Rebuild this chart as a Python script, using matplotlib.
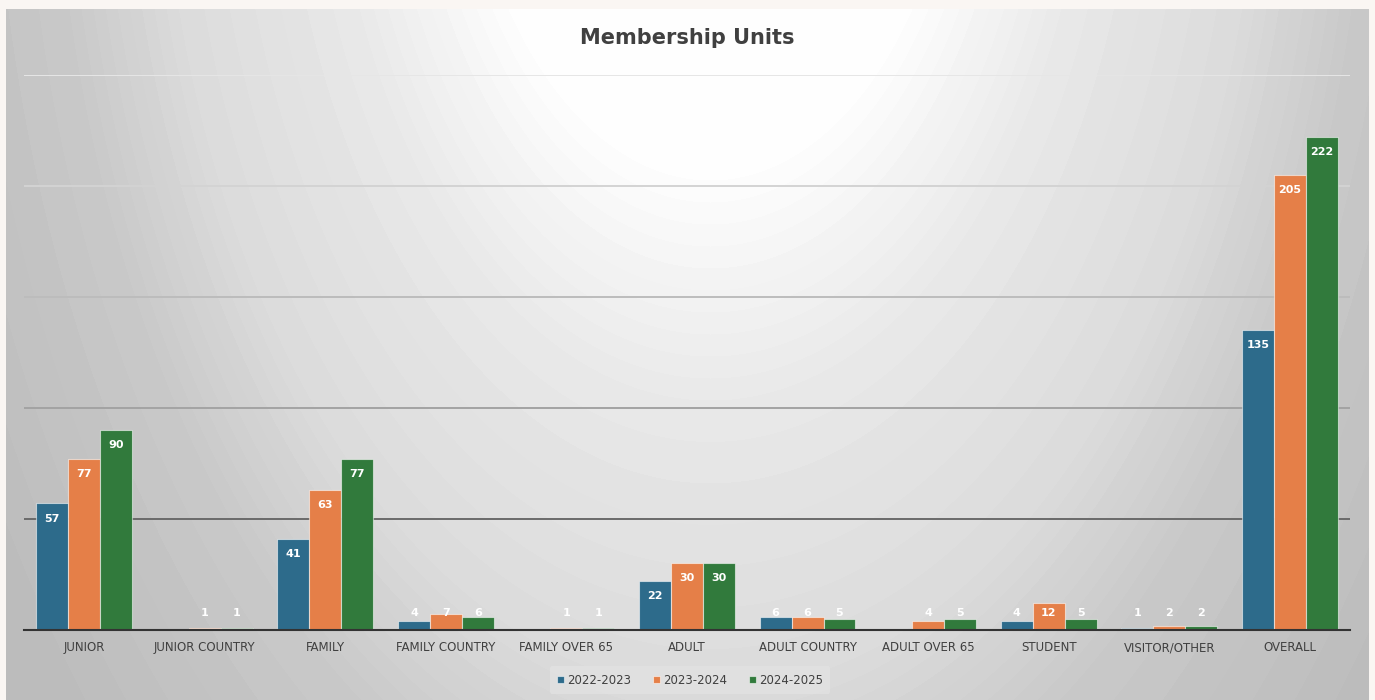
import numpy as np
import matplotlib
matplotlib.use('Agg')
import matplotlib.pyplot as plt

categories = ['JUNIOR', 'JUNIOR COUNTRY', 'FAMILY', 'FAMILY COUNTRY', 'FAMILY OVER 65',
              'ADULT', 'ADULT COUNTRY', 'ADULT OVER 65', 'STUDENT', 'VISITOR/OTHER', 'OVERALL']
seasons = ['2022-2023', '2023-2024', '2024-2025']
units_2022 = [57, 0, 41, 4, 0, 22, 6, 0, 4, 1, 135]
units_2023 = [77, 1, 63, 7, 1, 30, 6, 4, 12, 2, 205]
units_2024 = [90, 1, 77, 6, 1, 30, 5, 5, 5, 2, 222]
colors = ['#2d6b8b', '#e57f48', '#317a3c']
grid_levels = [50, 100, 150, 200, 250]
grid_colors = ['#6a6a6a', '#a3a3a3', '#bcbcbc', '#d3d3d3', '#e6e6e6']

W, H = 1375, 700
fig = plt.figure(figsize=(W / 100, H / 100), dpi=100, facecolor='#faf6f3')

# radial grey background of the chart area (white at top centre)
bx0, bx1, by0, by1 = 6, 1369, 9, 700
bg = fig.add_axes([bx0 / W, 0, (bx1 - bx0) / W, (by1 - by0) / H], zorder=0)
yy, xx = np.mgrid[by0:by1, bx0:bx1]
d = np.sqrt(((xx - 710) * 1.7) ** 2 + (yy + 250) ** 2)
g = np.interp(d, [0, 430, 650, 940, 1120, 1450], [255, 253, 233, 219, 201, 188])
g = np.round(g / 2) * 2
bg.imshow(g, cmap='gray', vmin=0, vmax=255, aspect='auto', interpolation='nearest')
bg.axis('off')

ax = fig.add_axes([24 / W, 70 / H, (1350 - 24) / W, (630 - 75) / H], zorder=1)
ax.set_facecolor('none')

x = np.arange(len(categories))
w = 0.265
series = [units_2022, units_2023, units_2024]
for i, (vals, c, lab) in enumerate(zip(series, colors, seasons)):
    pos = x + (i - 1) * w
    ax.bar(pos, vals, width=w, color=c, edgecolor=(1, 1, 1, 0.55), linewidth=0.8,
           label=lab, zorder=3)
    for px, v in zip(pos, vals):
        if v == 0:
            continue
        ax.text(px, max(v - 6.8, 7.6), str(v), ha='center', va='center',
                color='white', fontsize=8, fontweight='bold', zorder=4)

ax.hlines(grid_levels, -0.5, len(categories) - 0.5, colors=grid_colors, linewidth=1.4, zorder=1)
ax.set_xlim(-0.5, len(categories) - 0.5)
ax.set_ylim(0, 250)
ax.set_yticks([])
for s in ['top', 'right', 'left']:
    ax.spines[s].set_visible(False)
ax.spines['bottom'].set_color('#333333')
ax.spines['bottom'].set_linewidth(1.5)
ax.spines['bottom'].set_zorder(5)
ax.set_xticks(x)
ax.set_xticklabels(categories, fontsize=8.5, color='#404040')
ax.tick_params(axis='x', length=0, pad=8)

fig.text(0.5, 1 - 38 / H, 'Membership Units', ha='center', va='center',
         fontsize=15, fontweight='bold', color='#404040')

leg = fig.legend(loc='center', bbox_to_anchor=(690 / W, 1 - 680 / H), ncol=3,
                 frameon=True, fontsize=8.5, handlelength=0.6, handleheight=0.6,
                 handletextpad=0.3, columnspacing=1.8, borderpad=0.6)
leg.get_frame().set_facecolor('#e2e2e2')
leg.get_frame().set_edgecolor('none')
leg.get_frame().set_alpha(0.8)
for txt in leg.get_texts():
    txt.set_color('#404040')

fig.savefig('out.png', dpi=100, facecolor=fig.get_facecolor())
